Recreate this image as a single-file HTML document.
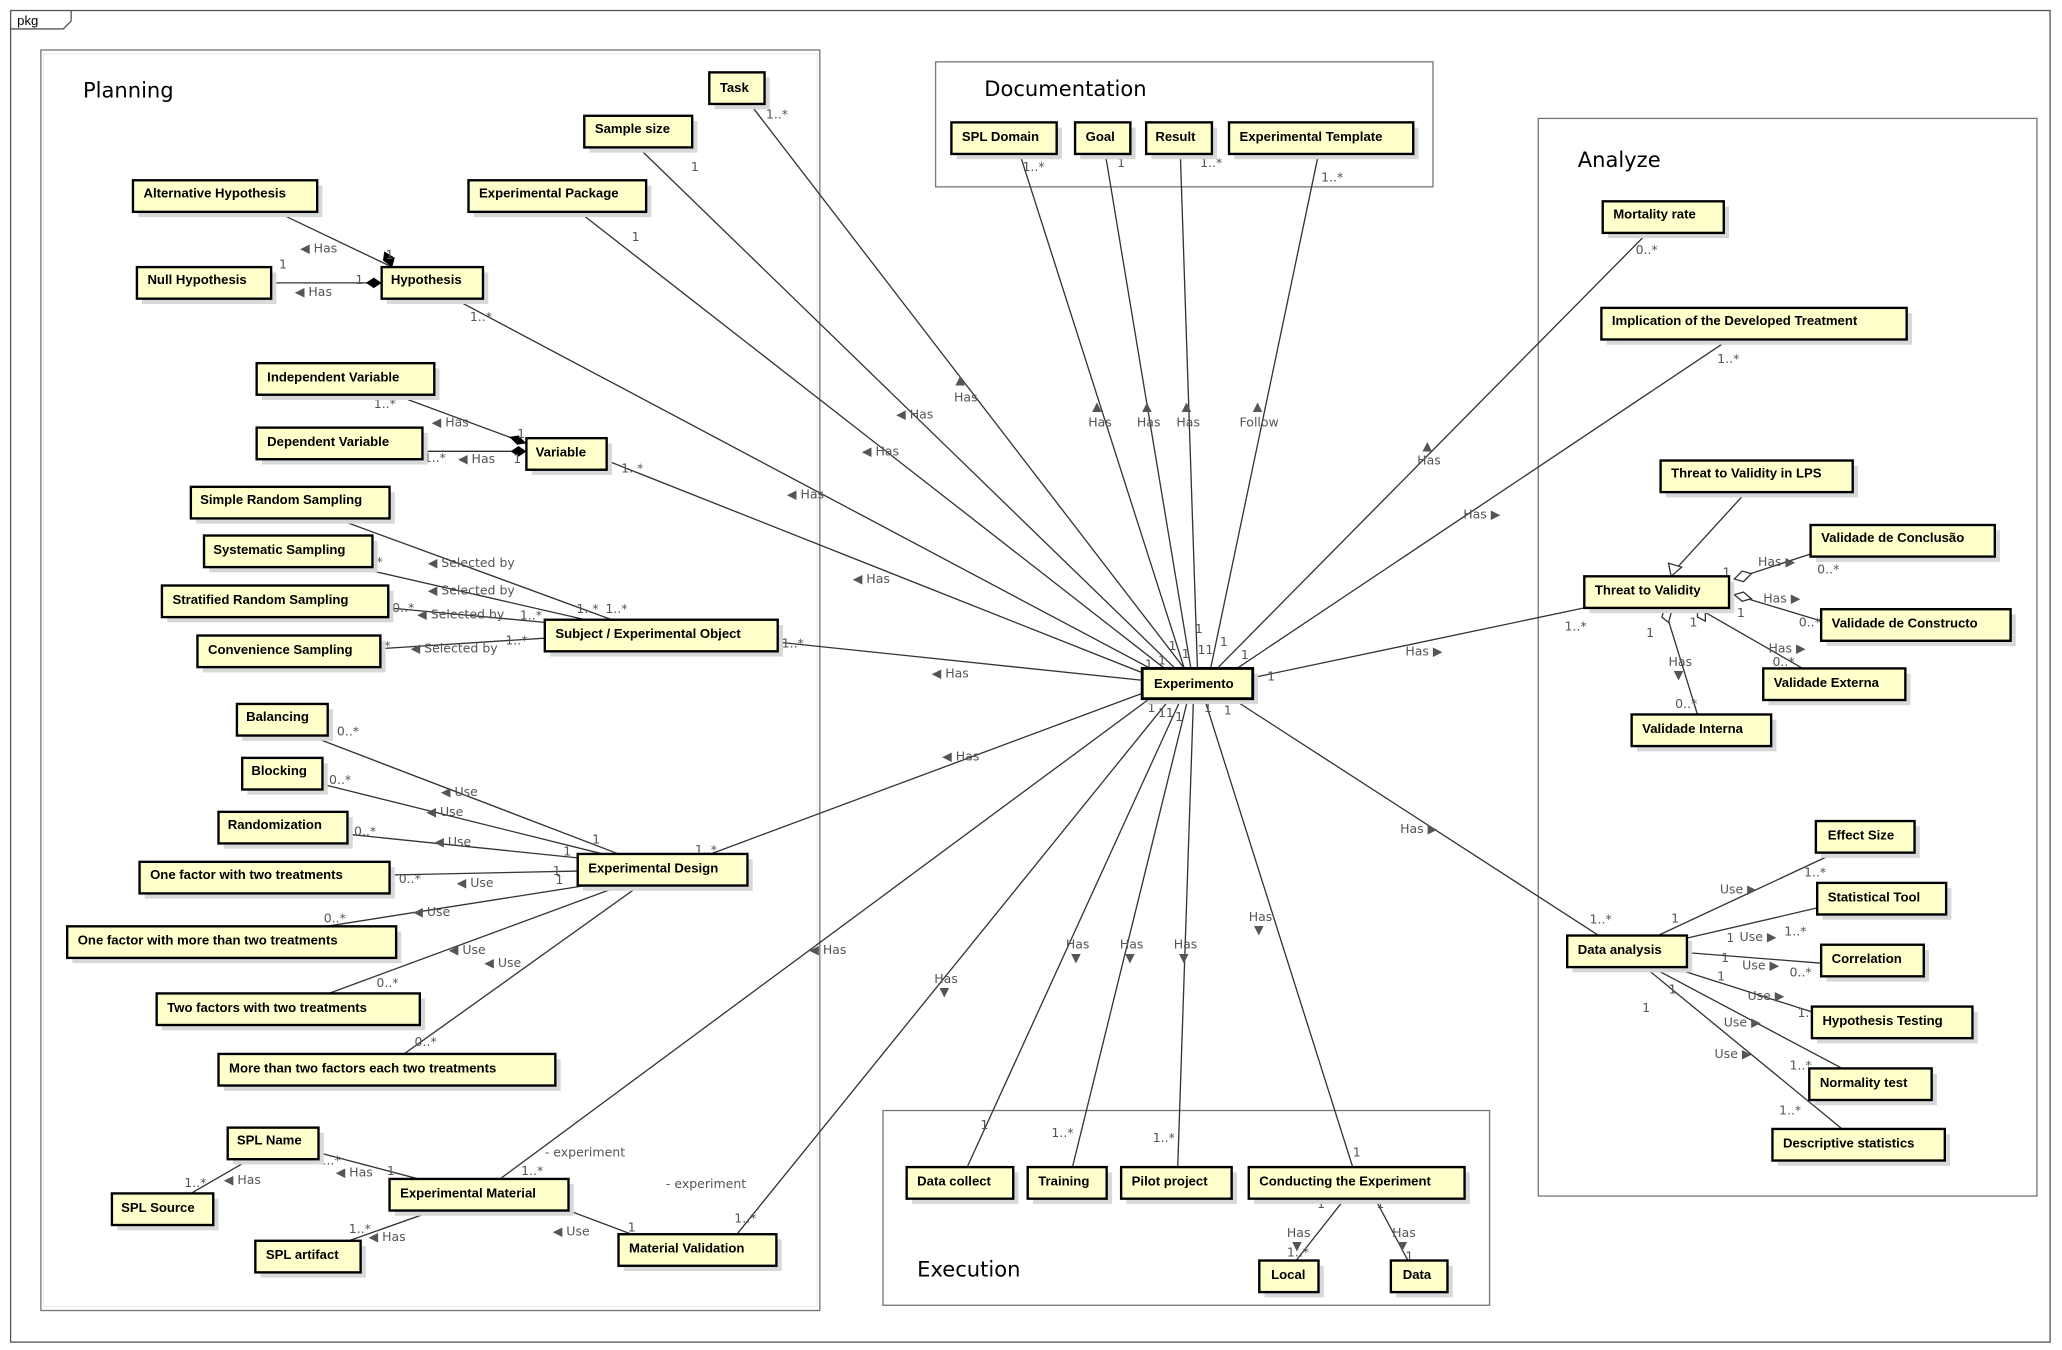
<!DOCTYPE html>
<html><head><meta charset="utf-8"><style>
html,body{margin:0;padding:0;background:#fff}
svg{display:block}
.b{fill:#ffffcc;stroke:#000;stroke-width:1.8}
.s{fill:#d8d8d8}
.t{font-family:"Liberation Sans","DejaVu Sans",sans-serif;font-size:10px;font-weight:bold;fill:#000}
.l{font-family:"DejaVu Sans","Liberation Sans",sans-serif;font-size:9.5px;fill:#555}
.ln{stroke:#333;stroke-width:1;fill:none}
.pk{fill:none;stroke:#777;stroke-width:1}
.pt{font-family:"DejaVu Sans","Liberation Sans",sans-serif;font-size:16px;fill:#000}
</style></head><body>
<svg width="2062" height="1350" viewBox="0 0 1567 1026" xmlns="http://www.w3.org/2000/svg">
<rect x="8" y="8" width="1550" height="1012" fill="none" stroke="#555" stroke-width="1"/>
<path d="M8 22 H48 L54 16 V8" fill="none" stroke="#555"/>
<text x="13" y="19" class="t" style="font-weight:normal;font-size:10px">pkg</text>

<rect x="31" y="38" width="592" height="958" class="pk"/><rect x="33" y="41" width="588" height="952" fill="none" stroke="#eee"/>
<text x="63" y="74" class="pt">Planning</text>
<rect x="711" y="47" width="378" height="95" class="pk"/>
<text x="748" y="73" class="pt">Documentation</text>
<rect x="1169" y="90" width="379" height="819" class="pk"/>
<text x="1199" y="127" class="pt">Analyze</text>
<rect x="671" y="844" width="461" height="148" class="pk"/>
<text x="697" y="970" class="pt">Execution</text>

<g class="ln">
<!-- Experimento connections -->
<line x1="570" y1="79" x2="900" y2="508"/>
<line x1="485" y1="112" x2="893" y2="508"/>
<line x1="440" y1="161" x2="885" y2="508"/>
<line x1="345" y1="227" x2="878" y2="510"/>
<line x1="461" y1="350" x2="870" y2="512"/>
<line x1="591" y1="488" x2="868" y2="517"/>
<line x1="540" y1="649" x2="868" y2="527"/>
<line x1="380" y1="896" x2="875" y2="530"/>
<line x1="560" y1="938" x2="890" y2="530"/>
<line x1="735" y1="887" x2="898" y2="530"/>
<line x1="815" y1="887" x2="903" y2="530"/>
<line x1="895" y1="887" x2="907" y2="530"/>
<line x1="1028" y1="887" x2="915" y2="530"/>
<line x1="775" y1="117" x2="900" y2="508"/>
<line x1="840" y1="117" x2="905" y2="508"/>
<line x1="897" y1="117" x2="910" y2="508"/>
<line x1="1002" y1="117" x2="920" y2="508"/>
<line x1="1252" y1="177" x2="925" y2="508"/>
<line x1="1314" y1="258" x2="940" y2="508"/>
<line x1="1204" y1="462" x2="952" y2="515"/>
<line x1="1215" y1="711" x2="935" y2="530"/>
<!-- planning -->
<line x1="210" y1="161" x2="298" y2="203"/>
<line x1="206" y1="215" x2="290" y2="215"/>
<line x1="300" y1="300" x2="400" y2="337"/>
<line x1="321" y1="343" x2="400" y2="343"/>
<line x1="255" y1="394" x2="465" y2="471"/>
<line x1="270" y1="431" x2="445" y2="471"/>
<line x1="295" y1="462" x2="414" y2="473"/>
<line x1="289" y1="493" x2="414" y2="485"/>
<line x1="235" y1="559" x2="470" y2="649"/>
<line x1="245" y1="596" x2="458" y2="649"/>
<line x1="264" y1="634" x2="439" y2="652"/>
<line x1="296" y1="665" x2="439" y2="662"/>
<line x1="248" y1="704" x2="445" y2="673"/>
<line x1="250" y1="755" x2="472" y2="673"/>
<line x1="307" y1="801" x2="486" y2="673"/>
<line x1="190" y1="881" x2="145" y2="907"/>
<line x1="242" y1="876" x2="318" y2="896"/>
<line x1="330" y1="920" x2="265" y2="943"/>
<line x1="432" y1="920" x2="480" y2="938"/>
<!-- analyze -->
<line x1="1327" y1="374" x2="1274" y2="432"/>
<line x1="1318" y1="440" x2="1376" y2="421"/>
<line x1="1318" y1="452" x2="1384" y2="472"/>
<line x1="1290" y1="462" x2="1370" y2="508"/>
<line x1="1265" y1="462" x2="1290" y2="543"/>
<line x1="1260" y1="711" x2="1395" y2="648"/>
<line x1="1282" y1="713" x2="1381" y2="690"/>
<line x1="1282" y1="724" x2="1384" y2="732"/>
<line x1="1270" y1="735" x2="1380" y2="770"/>
<line x1="1255" y1="735" x2="1400" y2="812"/>
<line x1="1250" y1="735" x2="1400" y2="858"/>
<line x1="1022" y1="911" x2="985" y2="958"/>
<line x1="1045" y1="911" x2="1070" y2="958"/>
</g>
<!-- diamonds -->
<polygon points="298,203 291,198 292,191 300,196" fill="#000"/>
<polygon points="290,215 284,211 278,215 284,219" fill="#000"/>
<polygon points="400,337 394,331 387,332 393,338" fill="#000"/>
<polygon points="400,343 394,339 388,343 394,347" fill="#000"/>
<polygon points="1318,440 1324,434 1331,436 1325,442" fill="#fff" stroke="#333"/>
<polygon points="1318,452 1325,450 1331,455 1324,457" fill="#fff" stroke="#333"/>
<polygon points="1290,462 1296,465 1296,472 1290,469" fill="#fff" stroke="#333"/>
<polygon points="1265,462 1270,466 1268,473 1263,469" fill="#fff" stroke="#333"/>
<polygon points="1270,438 1268,428 1278,431" fill="#fff" stroke="#333"/>

<g class="l">
<text x="726" y="292">▲</text><text x="725" y="305">Has</text>
<text x="681" y="318">◀ Has</text>
<text x="655" y="346">◀ Has</text>
<text x="598" y="379">◀ Has</text>
<text x="648" y="443">◀ Has</text>
<text x="708" y="515">◀ Has</text>
<text x="716" y="578">◀ Has</text>
<text x="615" y="725">◀ Has</text>
<text x="710" y="747">Has</text><text x="714" y="757">▼</text>
<text x="810" y="721">Has</text><text x="814" y="731">▼</text>
<text x="851" y="721">Has</text><text x="855" y="731">▼</text>
<text x="892" y="721">Has</text><text x="896" y="731">▼</text>
<text x="949" y="700">Has</text><text x="953" y="710">▼</text>
<text x="830" y="312">▲</text><text x="827" y="324">Has</text>
<text x="868" y="312">▲</text><text x="864" y="324">Has</text>
<text x="898" y="312">▲</text><text x="894" y="324">Has</text>
<text x="952" y="312">▲</text><text x="942" y="324">Follow</text>
<text x="1081" y="342">▲</text><text x="1077" y="353">Has</text>
<text x="1112" y="394">Has ▶</text>
<text x="1068" y="498">Has ▶</text>
<text x="1064" y="633">Has ▶</text>
<text x="582" y="90">1..*</text><text x="525" y="130">1</text><text x="480" y="183">1</text>
<text x="357" y="244">1..*</text><text x="472" y="359">1..*</text><text x="594" y="492">1..*</text>
<text x="528" y="649">1..*</text><text x="396" y="893">1..*</text><text x="414" y="879">- experiment</text>
<text x="558" y="929">1..*</text><text x="506" y="903">- experiment</text>
<text x="745" y="858">1</text><text x="799" y="864">1..*</text><text x="876" y="868">1..*</text><text x="1028" y="879">1</text>
<text x="777" y="130">1..*</text><text x="849" y="127">1</text><text x="912" y="127">1..*</text><text x="1004" y="138">1..*</text>
<text x="1243" y="193">0..*</text><text x="1305" y="276">1..*</text><text x="1189" y="479">1..*</text><text x="1208" y="702">1..*</text>
<text x="908" y="481">1</text><text x="927" y="491">1</text><text x="943" y="501">1</text><text x="963" y="517">1</text>
<text x="870" y="508">1</text><text x="880" y="505">1</text><text x="888" y="494">1</text><text x="898" y="500">1</text><text x="910" y="497">11</text>
<text x="872" y="541">1</text><text x="880" y="545">11</text><text x="893" y="548">1</text><text x="915" y="541">1</text><text x="930" y="543">1</text>
<text x="228" y="192">◀ Has</text><text x="210" y="160">1..*</text><text x="293" y="197">1</text>
<text x="224" y="225">◀ Has</text><text x="212" y="204">1</text><text x="270" y="216">1</text>
<text x="328" y="324">◀ Has</text><text x="284" y="310">1..*</text><text x="393" y="333">1</text>
<text x="348" y="352">◀ Has</text><text x="322" y="351">1..*</text><text x="390" y="352">1</text>
<text x="325" y="431">◀ Selected by</text><text x="256" y="392">0..*</text><text x="438" y="466">1..*</text><text x="460" y="466">1..*</text>
<text x="325" y="452">◀ Selected by</text><text x="274" y="430">0..*</text>
<text x="317" y="470">◀ Selected by</text><text x="298" y="465">0..*</text><text x="395" y="471">1..*</text>
<text x="312" y="496">◀ Selected by</text><text x="280" y="494">0..*</text><text x="384" y="490">1..*</text>
<text x="335" y="605">◀ Use</text><text x="256" y="559">0..*</text><text x="450" y="641">1</text>
<text x="324" y="620">◀ Use</text><text x="250" y="596">0..*</text><text x="428" y="650">1</text>
<text x="330" y="643">◀ Use</text><text x="269" y="635">0..*</text><text x="420" y="665">1</text>
<text x="347" y="674">◀ Use</text><text x="303" y="671">0..*</text><text x="422" y="672">1</text>
<text x="314" y="696">◀ Use</text><text x="246" y="701">0..*</text>
<text x="341" y="725">◀ Use</text><text x="286" y="750">0..*</text>
<text x="368" y="735">◀ Use</text><text x="315" y="795">0..*</text>
<text x="170" y="900">◀ Has</text><text x="186" y="879">1</text><text x="140" y="902">1..*</text>
<text x="255" y="894">◀ Has</text><text x="242" y="885">1..*</text><text x="294" y="893">1</text>
<text x="280" y="943">◀ Has</text><text x="314" y="914">1</text><text x="265" y="937">1..*</text>
<text x="420" y="939">◀ Use</text><text x="477" y="936">1</text>
<text x="1336" y="430">Has ▶</text><text x="1309" y="438">1</text><text x="1381" y="436">0..*</text>
<text x="1340" y="458">Has ▶</text><text x="1320" y="469">1</text><text x="1367" y="476">0..*</text>
<text x="1344" y="496">Has ▶</text><text x="1284" y="476">1</text><text x="1347" y="506">0..*</text>
<text x="1268" y="506">Has</text><text x="1272" y="516">▼</text><text x="1251" y="484">1</text><text x="1273" y="538">0..*</text>
<text x="1307" y="679">Use ▶</text><text x="1270" y="701">1</text><text x="1371" y="666">1..*</text>
<text x="1322" y="715">Use ▶</text><text x="1312" y="716">1</text><text x="1356" y="711">1..*</text>
<text x="1324" y="737">Use ▶</text><text x="1308" y="731">1</text><text x="1360" y="742">0..*</text>
<text x="1328" y="760">Use ▶</text><text x="1305" y="745">1</text><text x="1366" y="773">1..*</text>
<text x="1310" y="780">Use ▶</text><text x="1268" y="755">1</text><text x="1360" y="813">1..*</text>
<text x="1303" y="804">Use ▶</text><text x="1248" y="769">1</text><text x="1352" y="847">1..*</text>
<text x="978" y="940">Has</text><text x="982" y="950">▼</text><text x="1001" y="918">1</text><text x="978" y="955">1..*</text>
<text x="1058" y="940">Has</text><text x="1062" y="950">▼</text><text x="1046" y="918">1</text><text x="1068" y="958">1</text>
</g>

<!-- boxes -->
<g>
<rect x="543" y="59" width="42" height="24" class="s"/><rect x="539" y="55" width="42" height="24" class="b"/><text x="547" y="70" class="t">Task</text>
<rect x="448" y="92" width="82" height="24" class="s"/><rect x="444" y="88" width="82" height="24" class="b"/><text x="452" y="101" class="t">Sample size</text>
<rect x="105" y="141" width="140" height="24" class="s"/><rect x="101" y="137" width="140" height="24" class="b"/><text x="109" y="150" class="t">Alternative Hypothesis</text>
<rect x="360" y="141" width="135" height="24" class="s"/><rect x="356" y="137" width="135" height="24" class="b"/><text x="364" y="150" class="t">Experimental Package</text>
<rect x="108" y="207" width="102" height="24" class="s"/><rect x="104" y="203" width="102" height="24" class="b"/><text x="112" y="216" class="t">Null Hypothesis</text>
<rect x="294" y="207" width="77" height="24" class="s"/><rect x="290" y="203" width="77" height="24" class="b"/><text x="297" y="216" class="t">Hypothesis</text>
<rect x="199" y="280" width="135" height="24" class="s"/><rect x="195" y="276" width="135" height="24" class="b"/><text x="203" y="290" class="t">Independent Variable</text>
<rect x="199" y="329" width="126" height="24" class="s"/><rect x="195" y="325" width="126" height="24" class="b"/><text x="203" y="339" class="t">Dependent Variable</text>
<rect x="404" y="337" width="61" height="24" class="s"/><rect x="400" y="333" width="61" height="24" class="b"/><text x="407" y="347" class="t">Variable</text>
<rect x="149" y="374" width="151" height="24" class="s"/><rect x="145" y="370" width="151" height="24" class="b"/><text x="152" y="383" class="t">Simple Random Sampling</text>
<rect x="159" y="411" width="128" height="24" class="s"/><rect x="155" y="407" width="128" height="24" class="b"/><text x="162" y="421" class="t">Systematic Sampling</text>
<rect x="127" y="449" width="172" height="24" class="s"/><rect x="123" y="445" width="172" height="24" class="b"/><text x="131" y="459" class="t">Stratified Random Sampling</text>
<rect x="154" y="487" width="139" height="24" class="s"/><rect x="150" y="483" width="139" height="24" class="b"/><text x="158" y="497" class="t">Convenience Sampling</text>
<rect x="418" y="475" width="177" height="24" class="s"/><rect x="414" y="471" width="177" height="24" class="b"/><text x="422" y="485" class="t">Subject / Experimental Object</text>
<rect x="184" y="539" width="69" height="24" class="s"/><rect x="180" y="535" width="69" height="24" class="b"/><text x="187" y="548" class="t">Balancing</text>
<rect x="188" y="580" width="61" height="24" class="s"/><rect x="184" y="576" width="61" height="24" class="b"/><text x="191" y="589" class="t">Blocking</text>
<rect x="170" y="621" width="98" height="24" class="s"/><rect x="166" y="617" width="98" height="24" class="b"/><text x="173" y="630" class="t">Randomization</text>
<rect x="110" y="659" width="190" height="24" class="s"/><rect x="106" y="655" width="190" height="24" class="b"/><text x="114" y="668" class="t">One factor with two treatments</text>
<rect x="443" y="653" width="129" height="24" class="s"/><rect x="439" y="649" width="129" height="24" class="b"/><text x="447" y="663" class="t">Experimental Design</text>
<rect x="55" y="708" width="250" height="24" class="s"/><rect x="51" y="704" width="250" height="24" class="b"/><text x="59" y="718" class="t">One factor with more than two treatments</text>
<rect x="123" y="759" width="200" height="24" class="s"/><rect x="119" y="755" width="200" height="24" class="b"/><text x="127" y="769" class="t">Two factors with two treatments</text>
<rect x="170" y="805" width="256" height="24" class="s"/><rect x="166" y="801" width="256" height="24" class="b"/><text x="174" y="815" class="t">More than two factors each two treatments</text>
<rect x="177" y="861" width="69" height="24" class="s"/><rect x="173" y="857" width="69" height="24" class="b"/><text x="180" y="870" class="t">SPL Name</text>
<rect x="89" y="911" width="77" height="24" class="s"/><rect x="85" y="907" width="77" height="24" class="b"/><text x="92" y="921" class="t">SPL Source</text>
<rect x="300" y="900" width="136" height="24" class="s"/><rect x="296" y="896" width="136" height="24" class="b"/><text x="304" y="910" class="t">Experimental Material</text>
<rect x="198" y="947" width="80" height="24" class="s"/><rect x="194" y="943" width="80" height="24" class="b"/><text x="202" y="957" class="t">SPL artifact</text>
<rect x="474" y="942" width="120" height="24" class="s"/><rect x="470" y="938" width="120" height="24" class="b"/><text x="478" y="952" class="t">Material Validation</text>

<rect x="727" y="97" width="80" height="24" class="s"/><rect x="723" y="93" width="80" height="24" class="b"/><text x="731" y="107" class="t">SPL Domain</text>
<rect x="821" y="97" width="42" height="24" class="s"/><rect x="817" y="93" width="42" height="24" class="b"/><text x="825" y="107" class="t">Goal</text>
<rect x="875" y="97" width="50" height="24" class="s"/><rect x="871" y="93" width="50" height="24" class="b"/><text x="878" y="107" class="t">Result</text>
<rect x="938" y="97" width="140" height="24" class="s"/><rect x="934" y="93" width="140" height="24" class="b"/><text x="942" y="107" class="t">Experimental Template</text>

<rect x="872" y="512" width="84" height="23" class="s"/><rect x="868" y="508" width="84" height="23" class="b" style="stroke-width:2.2"/><text x="877" y="523" class="t">Experimento</text>

<rect x="1222" y="157" width="92" height="24" class="s"/><rect x="1218" y="153" width="92" height="24" class="b"/><text x="1226" y="166" class="t">Mortality rate</text>
<rect x="1221" y="238" width="232" height="24" class="s"/><rect x="1217" y="234" width="232" height="24" class="b"/><text x="1225" y="247" class="t">Implication of the Developed Treatment</text>
<rect x="1266" y="354" width="146" height="24" class="s"/><rect x="1262" y="350" width="146" height="24" class="b"/><text x="1270" y="363" class="t">Threat to Validity in LPS</text>
<rect x="1380" y="403" width="140" height="24" class="s"/><rect x="1376" y="399" width="140" height="24" class="b"/><text x="1384" y="412" class="t">Validade de Conclusão</text>
<rect x="1208" y="442" width="110" height="24" class="s"/><rect x="1204" y="438" width="110" height="24" class="b"/><text x="1212" y="452" class="t">Threat to Validity</text>
<rect x="1388" y="467" width="144" height="24" class="s"/><rect x="1384" y="463" width="144" height="24" class="b"/><text x="1392" y="477" class="t">Validade de Constructo</text>
<rect x="1344" y="512" width="108" height="24" class="s"/><rect x="1340" y="508" width="108" height="24" class="b"/><text x="1348" y="522" class="t">Validade Externa</text>
<rect x="1244" y="547" width="106" height="24" class="s"/><rect x="1240" y="543" width="106" height="24" class="b"/><text x="1248" y="557" class="t">Validade Interna</text>
<rect x="1384" y="628" width="75" height="24" class="s"/><rect x="1380" y="624" width="75" height="24" class="b"/><text x="1389" y="638" class="t">Effect Size</text>
<rect x="1385" y="675" width="98" height="24" class="s"/><rect x="1381" y="671" width="98" height="24" class="b"/><text x="1389" y="685" class="t">Statistical Tool</text>
<rect x="1195" y="715" width="91" height="24" class="s"/><rect x="1191" y="711" width="91" height="24" class="b"/><text x="1199" y="725" class="t">Data analysis</text>
<rect x="1388" y="722" width="78" height="24" class="s"/><rect x="1384" y="718" width="78" height="24" class="b"/><text x="1392" y="732" class="t">Correlation</text>
<rect x="1381" y="769" width="122" height="24" class="s"/><rect x="1377" y="765" width="122" height="24" class="b"/><text x="1385" y="779" class="t">Hypothesis Testing</text>
<rect x="1379" y="816" width="93" height="24" class="s"/><rect x="1375" y="812" width="93" height="24" class="b"/><text x="1383" y="826" class="t">Normality test</text>
<rect x="1351" y="862" width="131" height="24" class="s"/><rect x="1347" y="858" width="131" height="24" class="b"/><text x="1355" y="872" class="t">Descriptive statistics</text>

<rect x="693" y="891" width="81" height="24" class="s"/><rect x="689" y="887" width="81" height="24" class="b"/><text x="697" y="901" class="t">Data collect</text>
<rect x="785" y="891" width="60" height="24" class="s"/><rect x="781" y="887" width="60" height="24" class="b"/><text x="789" y="901" class="t">Training</text>
<rect x="856" y="891" width="84" height="24" class="s"/><rect x="852" y="887" width="84" height="24" class="b"/><text x="860" y="901" class="t">Pilot project</text>
<rect x="953" y="891" width="164" height="24" class="s"/><rect x="949" y="887" width="164" height="24" class="b"/><text x="957" y="901" class="t">Conducting the Experiment</text>
<rect x="961" y="962" width="45" height="24" class="s"/><rect x="957" y="958" width="45" height="24" class="b"/><text x="966" y="972" class="t">Local</text>
<rect x="1061" y="962" width="43" height="24" class="s"/><rect x="1057" y="958" width="43" height="24" class="b"/><text x="1066" y="972" class="t">Data</text>
</g>
</svg>
</body></html>
